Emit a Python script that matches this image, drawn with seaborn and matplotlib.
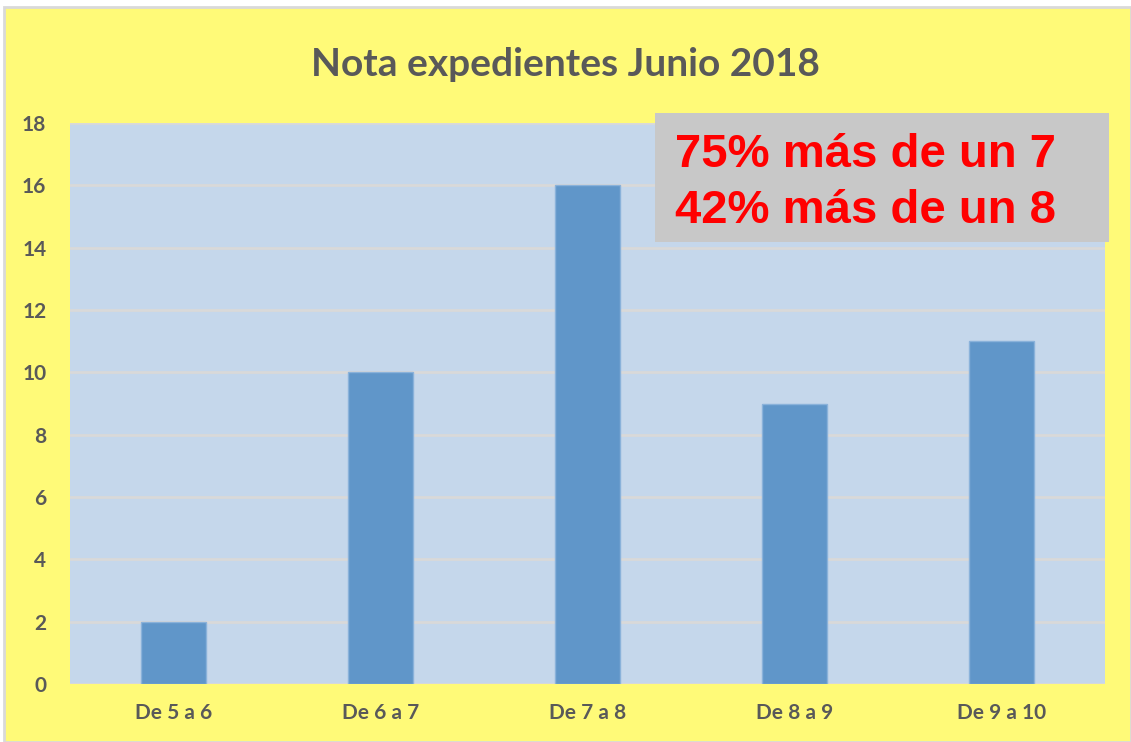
import matplotlib
matplotlib.use("Agg")
import matplotlib.pyplot as plt
import seaborn as sns
import pandas as pd
from matplotlib.patches import Rectangle

categories = ["De 5 a 6", "De 6 a 7", "De 7 a 8", "De 8 a 9", "De 9 a 10"]
counts = [2, 10, 16, 9, 11]
yticks = [0, 2, 4, 6, 8, 10, 12, 14, 16, 18]
title = "Nota expedientes Junio 2018"
note_lines = ["75% más de un 7", "42% más de un 8"]

sns.set_theme(style="white")
plt.rcParams["font.family"] = ["Lato", "DejaVu Sans"]

df = pd.DataFrame({"rango": categories, "n": counts})

fig = plt.figure(figsize=(11.31, 7.42), dpi=100)
fig.patch.set_facecolor("white")
# yellow chart area with thin gray border
fig.patches.append(Rectangle((4 / 1131, 0), 1 - 4 / 1131, 1 - 7 / 742,
                             transform=fig.transFigure, facecolor="#FFFA78",
                             edgecolor="#D9D9D9", linewidth=2, zorder=-1))

ax = fig.add_axes([70 / 1131, 58 / 742, 1035 / 1131, 561 / 742])
ax.set_zorder(1)
ax.set_facecolor("#C5D7EB")
sns.barplot(data=df, x="rango", y="n", color="#6096C9", width=0.31,
            saturation=1, edgecolor="#8AB2DA", linewidth=1, ax=ax, zorder=3)

ax.set_ylim(0, 18)
ax.set_yticks(yticks, [str(t) for t in yticks], fontweight="bold", fontsize=15)
ax.set_xticks(range(len(categories)), categories, fontweight="bold", fontsize=15)
ax.yaxis.grid(True, color="#D9D9D9", linewidth=2, zorder=1)
ax.set_axisbelow(True)
for s in ax.spines.values():
    s.set_visible(False)
ax.set_xlabel("")
ax.set_ylabel("")
ax.tick_params(axis="both", length=0, labelcolor="#595959")
ax.tick_params(axis="y", pad=17)
ax.tick_params(axis="x", pad=14)

fig.text(0.5, 1 - 64 / 742, title, ha="center", va="center", fontsize=28,
         fontweight="bold", color="#595959")

# gray note box
fig.patches.append(Rectangle((655 / 1131, 1 - 242 / 742), 454 / 1131, 129 / 742,
                             transform=fig.transFigure, facecolor="#C8C8C8",
                             edgecolor="none", zorder=5))
for i, line in enumerate(note_lines):
    fig.text(675 / 1131, 1 - (167 + 56 * i) / 742, line, ha="left", va="baseline",
             fontsize=34, fontweight="bold", color="#FF0000",
             family=["Liberation Sans", "DejaVu Sans"], zorder=6)

plt.savefig("out.png", dpi=100, facecolor=fig.get_facecolor())
